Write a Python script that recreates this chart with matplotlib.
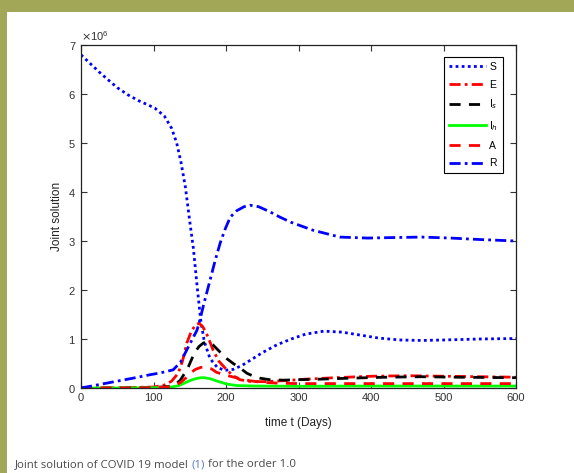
import matplotlib
matplotlib.use("Agg")
import matplotlib.pyplot as plt
from matplotlib.patches import Rectangle
from matplotlib.ticker import ScalarFormatter
import numpy as np

# values, in millions
t_S = [0, 10, 25, 35, 50, 65, 80, 92, 102, 115, 125, 132, 138, 144, 150, 155, 160, 165, 170, 178, 188,
       198, 210, 222, 235, 250, 270, 290, 310, 335, 360, 385, 410, 440, 470, 500, 550, 600]
S = [6.8, 6.66, 6.45, 6.32, 6.13, 5.98, 5.86, 5.78, 5.71, 5.55, 5.3, 5.0, 4.6, 4.1, 3.4, 2.85, 2.1, 1.4, 0.95, 0.6, 0.42,
     0.36, 0.38, 0.46, 0.58, 0.72, 0.88, 1.0, 1.1, 1.16, 1.14, 1.08, 1.02, 0.98, 0.97, 0.98, 1.0, 1.01]

t_E = [0, 50, 100, 115, 125, 134, 140, 146, 152, 158, 163, 168, 175, 182, 190, 201, 210,
       219, 235, 255, 280, 310, 350, 400, 450, 500, 550, 600]
E = [0.0, 0.005, 0.02, 0.06, 0.14, 0.3, 0.55, 0.92, 1.15, 1.29, 1.32, 1.25, 1.05, 0.78, 0.55, 0.37, 0.25,
     0.17, 0.13, 0.13, 0.15, 0.18, 0.21, 0.24, 0.25, 0.24, 0.23, 0.22]

t_Is = [0, 50, 100, 120, 130, 137, 143, 148, 153, 157, 163, 169, 175, 182, 192, 201, 210,
        220, 229, 238, 247, 260, 279, 300, 330, 370, 420, 470, 520, 600]
Is = [0.0, 0.0, 0.01, 0.03, 0.07, 0.16, 0.3, 0.43, 0.6, 0.73, 0.85, 0.92, 0.94, 0.88, 0.73, 0.6, 0.5,
      0.4, 0.3, 0.24, 0.2, 0.17, 0.16, 0.17, 0.18, 0.2, 0.22, 0.23, 0.22, 0.21]

t_Ih = [0, 50, 100, 125, 135, 141, 150, 158, 165, 170, 178, 188, 201, 215, 240, 300, 400, 500, 600]
Ih = [0.0, 0.0, 0.005, 0.02, 0.05, 0.09, 0.15, 0.19, 0.21, 0.21, 0.19, 0.14, 0.08, 0.05, 0.04, 0.035, 0.04, 0.04, 0.04]

t_A = [0, 50, 100, 120, 130, 138, 146, 150, 158, 165, 172, 180, 187, 200, 217, 232, 247,
       270, 300, 350, 400, 450, 500, 550, 600]
A = [0.0, 0.0, 0.005, 0.02, 0.05, 0.12, 0.22, 0.3, 0.38, 0.42, 0.43, 0.39, 0.32, 0.26, 0.2, 0.15, 0.12,
     0.1, 0.09, 0.09, 0.09, 0.09, 0.09, 0.09, 0.09]

t_R = [0, 25, 50, 75, 95, 110, 127, 137, 146, 153, 160, 164, 170, 178, 185, 192, 199, 206,
       215, 225, 233, 245, 260, 274, 290, 320, 357, 395, 430, 470, 510, 550, 600]
R = [0.0, 0.07, 0.14, 0.21, 0.27, 0.31, 0.37, 0.52, 0.78, 0.98, 1.18, 1.39, 1.75, 2.2, 2.6, 2.96, 3.25, 3.49,
     3.62, 3.7, 3.73, 3.7, 3.6, 3.49, 3.38, 3.22, 3.08, 3.06, 3.07, 3.08, 3.06, 3.03, 3.0]

series = [
    (t_S, S, "S", dict(color=(0, 0, 1), linestyle=(0, (1, 1.2)))),
    (t_E, E, "E", dict(color=(1, 0, 0), linestyle=(0, (4, 1.5, 1, 1.5)))),
    (t_Is, Is, "I$_s$", dict(color="k", linestyle=(0, (4, 3)))),
    (t_Ih, Ih, "I$_h$", dict(color=(0, 1, 0), linestyle="-")),
    (t_A, A, "A", dict(color=(1, 0, 0), linestyle=(0, (4, 3)))),
    (t_R, R, "R", dict(color=(0, 0, 1), linestyle=(0, (4, 1.5, 1, 1.5)))),
]

plt.rcParams["font.family"] = ["Liberation Sans", "DejaVu Sans"]

fig = plt.figure(figsize=(5.74, 4.73), dpi=100)
fig.patches.append(Rectangle((0, 1 - 12.5 / 473), 1, 12.5 / 473, transform=fig.transFigure,
                             facecolor="#a2a758", edgecolor="none"))
fig.patches.append(Rectangle((0, 0), 7 / 574, 1, transform=fig.transFigure,
                             facecolor="#a2a758", edgecolor="none"))

ax = fig.add_axes([81 / 574, 85 / 473, 435 / 574, 343 / 473])
for t, y, lab, style in series:
    ax.plot(t, np.array(y) * 1e6, label=lab, linewidth=2, **style)

ax.set_xlim(0, 600)
ax.set_ylim(0, 7e6)
ax.set_xticks(range(0, 601, 100))
ax.set_yticks(np.arange(0, 8) * 1e6)
fmt = ScalarFormatter(useMathText=True)
fmt.set_powerlimits((0, 0))
ax.yaxis.set_major_formatter(fmt)
ax.yaxis.get_offset_text().set_fontsize(8)
ax.yaxis.get_offset_text().set_color("#333333")
ax.tick_params(direction="in", length=4, width=0.8, top=True, right=True,
               labelsize=8, colors="#333333")
for sp in ax.spines.values():
    sp.set_linewidth(0.9)
    sp.set_color("#222222")

ax.set_xlabel("time t (Days)", fontsize=8.5, color="#222222", labelpad=10)
ax.set_ylabel("Joint solution", fontsize=8.5, color="#222222", labelpad=4)

leg = ax.legend(loc="upper right", bbox_to_anchor=(0.97, 0.965), borderaxespad=0,
                fontsize=7.5, handlelength=3.6, labelspacing=0.75, handletextpad=0.3,
                borderpad=0.45, fancybox=False, framealpha=1, edgecolor="k")
leg.get_frame().set_linewidth(0.8)

cap_color = "#4a4a4a"
cap_font = ["Open Sans", "DejaVu Sans"]
t1 = fig.text(15 / 574, 1 - 467 / 473, "Joint solution of COVID 19 model ", fontsize=8.2,
              family=cap_font, color=cap_color)
t2 = ax.annotate("(1)", xy=(1, 0), xycoords=t1, va="bottom", fontsize=8.2,
                 family=cap_font, color="#5b78c8", annotation_clip=False)
ax.annotate(" for the order 1.0", xy=(1, 0), xycoords=t2, va="bottom", fontsize=8.2,
            family=cap_font, color=cap_color, annotation_clip=False)

fig.savefig("out.png", dpi=100)
